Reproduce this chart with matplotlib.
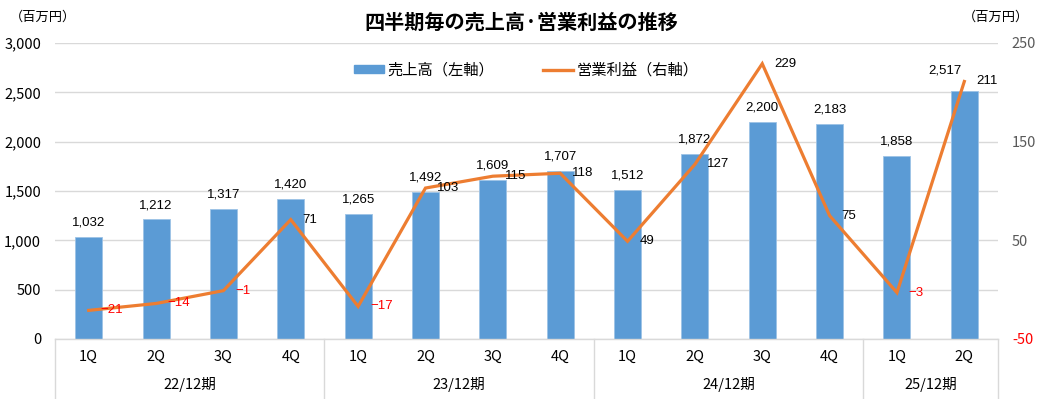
import matplotlib
matplotlib.use("Agg")
import matplotlib.pyplot as plt
import matplotlib.transforms as mtransforms
from matplotlib.patches import Patch
from matplotlib.lines import Line2D
import numpy as np

plt.rcParams['font.family'] = ['Noto Sans CJK JP', 'DejaVu Sans']

quarters = ["1Q", "2Q", "3Q", "4Q", "1Q", "2Q", "3Q", "4Q", "1Q", "2Q", "3Q", "4Q", "1Q", "2Q"]
groups = ["22/12期", "23/12期", "24/12期", "25/12期"]
group_sizes = [4, 4, 4, 2]
sales = [1032, 1212, 1317, 1420, 1265, 1492, 1609, 1707, 1512, 1872, 2200, 2183, 1858, 2517]
profit = [-21, -14, -1, 71, -17, 103, 115, 118, 49, 127, 229, 75, -3, 211]

title = "四半期毎の売上高·営業利益の推移"
sales_label = "売上高（左軸）"
profit_label = "営業利益（右軸）"
unit = "（百万円）"

BAR = "#5B9BD5"
LINE = "#ED7D31"
GRID = "#D9D9D9"

fig = plt.figure(figsize=(10.39, 3.99), dpi=100)
ax = fig.add_axes([55/1039, 60/399, (998-55)/1039, 296/399])
ax2 = ax.twinx()

x = np.arange(len(sales))
ax.bar(x, sales, width=0.4, color=BAR, edgecolor="#9DC3E6", linewidth=0.6, zorder=2)
ax.set_xlim(-0.5, len(sales) - 0.5)
ax.set_ylim(0, 3000)
ax.set_yticks(np.arange(0, 3001, 500))
ax.set_yticklabels([f"{v:,}" for v in range(0, 3001, 500)], fontsize=10.5, color="#000000")
ax.yaxis.grid(True, color=GRID, linewidth=1)
ax.set_axisbelow(True)
ax.tick_params(axis='y', length=0, pad=10)
ax.set_xticks([])
for s in ["top", "left", "right"]:
    ax.spines[s].set_visible(False)
ax.spines["bottom"].set_color(GRID)
ax.spines["bottom"].set_linewidth(1)

ax2.plot(x, profit, color=LINE, linewidth=2.3, zorder=3, solid_joinstyle='miter')
ax2.set_ylim(-50, 250)
ax2.set_yticks([-50, 50, 150, 250])
ax2.set_yticklabels(["-50", "50", "150", "250"], fontsize=10.5)
for lbl, v in zip(ax2.get_yticklabels(), [-50, 50, 150, 250]):
    lbl.set_color("#FF0000" if v < 0 else "#595959")
ax2.tick_params(axis='y', length=0, pad=10)
for s in ["top", "left", "right", "bottom"]:
    ax2.spines[s].set_visible(False)

# data labels - sales (last label nudged left/up to clear the line, as in the reference)
for i, (xi, v) in enumerate(zip(x, sales)):
    off = (-14, 10) if i == len(sales) - 1 else (0, 6)
    ax.annotate(f"{v:,}", (xi, v), xytext=off, textcoords="offset points",
                ha="center", va="bottom", fontsize=9.5, family="Liberation Sans", color="#000000")
# data labels - profit
for xi, v in zip(x, profit):
    txt = f"−{abs(v)}" if v < 0 else f"{v}"
    ax2.annotate(txt, (xi, v), xytext=(8.5, 0), textcoords="offset points",
                 ha="left", va="center", fontsize=9.5, family="Liberation Sans",
                 color="#FF0000" if v < 0 else "#000000")

# category axis
trans = mtransforms.blended_transform_factory(ax.transData, ax.transAxes)
bottom = -60/296
for xi, q in zip(x, quarters):
    ax.text(xi, -18/296, q, transform=trans, ha="center", va="center", fontsize=10.5)
start = 0
bounds = [-0.5]
for g, n in zip(groups, group_sizes):
    ax.text(start + (n - 1) / 2, -46/296, g, transform=trans, ha="center", va="center", fontsize=10.5)
    start += n
    bounds.append(start - 0.5)
for b in bounds:
    ax.plot([b, b], [0, bottom], transform=trans, color=GRID, linewidth=1, clip_on=False)

fig.text(0.502, 1 - 22/399, title, ha="center", va="center", fontsize=14.5, fontweight="bold")
fig.text(43/1039, 1 - 17/399, unit, ha="center", va="center", fontsize=9.5)
fig.text(996/1039, 1 - 17/399, unit, ha="center", va="center", fontsize=9.5)

handles = [Patch(facecolor=BAR, edgecolor=BAR), Line2D([0], [0], color=LINE, linewidth=2.4)]
fig.legend(handles, [sales_label, profit_label], loc="center", bbox_to_anchor=(526/1039, 1 - 70/399),
           ncol=2, frameon=False, fontsize=11, handlelength=2.0, handleheight=0.5,
           handletextpad=0.2, columnspacing=3.2)

fig.savefig("out.png", dpi=100)
